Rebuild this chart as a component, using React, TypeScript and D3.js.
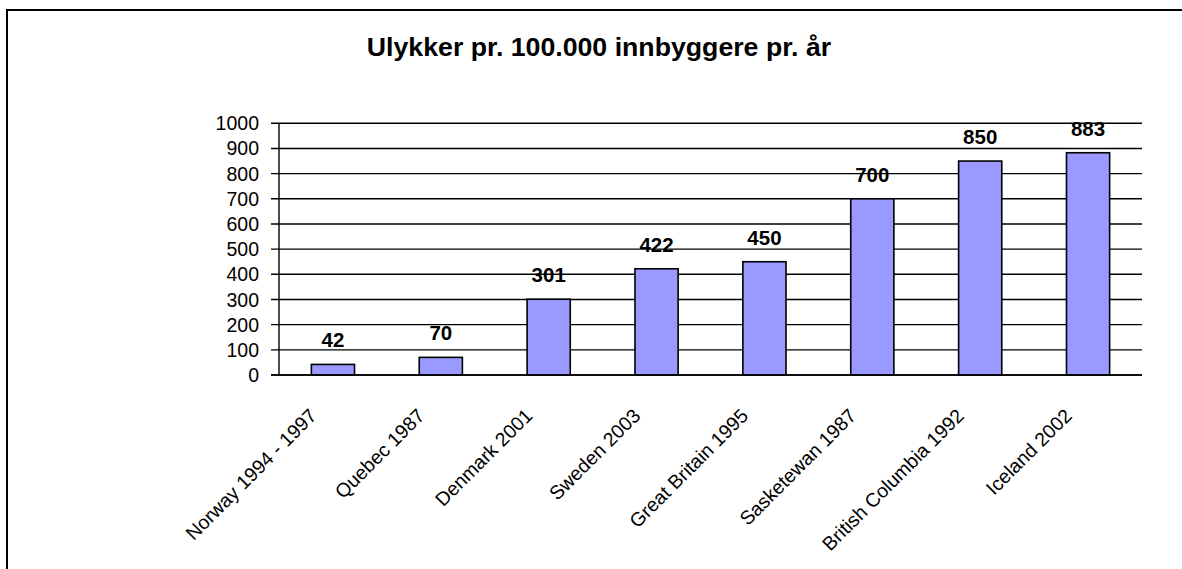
import React from "react";
import * as d3 from "d3";

const categories = [
  "Norway 1994 - 1997",
  "Quebec 1987",
  "Denmark 2001",
  "Sweden 2003",
  "Great Britain 1995",
  "Sasketewan 1987",
  "British Columbia 1992",
  "Iceland 2002",
];
const values = [42, 70, 301, 422, 450, 700, 850, 883];
const yTicks = [0, 100, 200, 300, 400, 500, 600, 700, 800, 900, 1000];
const title = "Ulykker pr. 100.000 innbyggere pr. år";

const W = 1182;
const H = 569;
const FONT = "'Liberation Sans', Arial, Helvetica, sans-serif";

export default function App() {
  const x0 = 279;
  const x1 = 1142;
  const yBottom = 375;
  const yTop = 123.3;

  const x = d3
    .scaleBand<string>()
    .domain(categories)
    .range([x0, x1])
    .paddingInner(0.6)
    .paddingOuter(0.3);
  const y = d3.scaleLinear().domain([0, 1000]).range([yBottom, yTop]);

  return (
    <svg
      width={W}
      height={H}
      style={{ position: "absolute", left: 0, top: 0, background: "#fff" }}
      fontFamily={FONT}
    >
      <rect x={0} y={0} width={W} height={H} fill="#fff" />
      <rect x={7} y={10} width={1200} height={600} fill="none" stroke="#000" strokeWidth={2} />
      <text x={599} y={56} textAnchor="middle" fontSize={26.7} fontWeight="bold" fill="#000">
        {title}
      </text>

      {/* gridlines and y ticks */}
      {yTicks.map((t) => (
        <g key={t}>
          <line x1={271} x2={x1} y1={y(t)} y2={y(t)} stroke="#000" strokeWidth={1.4} />
          <text
            x={259}
            y={y(t)}
            dy="0.36em"
            textAnchor="end"
            fontSize={19.5}
            fill="#000"
          >
            {t}
          </text>
        </g>
      ))}
      <line x1={x0} x2={x0} y1={yTop} y2={yBottom} stroke="#000" strokeWidth={1.4} />

      {/* bars */}
      {categories.map((c, i) => {
        const bx = x(c) as number;
        const bw = x.bandwidth();
        return (
          <g key={c}>
            <rect
              x={bx}
              y={y(values[i])}
              width={bw}
              height={yBottom - y(values[i])}
              fill="#9999FF"
              stroke="#000"
              strokeWidth={1.6}
            />
            <text
              x={bx + bw / 2}
              y={y(values[i]) - 17}
              textAnchor="middle"
              fontSize={20.5}
              fontWeight="bold"
              fill="#000"
            >
              {values[i]}
            </text>
          </g>
        );
      })}
      <line x1={271} x2={x1} y1={yBottom} y2={yBottom} stroke="#000" strokeWidth={1.6} />

      {/* category labels */}
      {categories.map((c) => {
        const cx = (x(c) as number) + x.bandwidth() / 2;
        return (
          <text
            key={c}
            transform={`translate(${cx - 15},${yBottom + 42}) rotate(-45)`}
            textAnchor="end"
            fontSize={19.5}
            fill="#000"
          >
            {c}
          </text>
        );
      })}
    </svg>
  );
}
